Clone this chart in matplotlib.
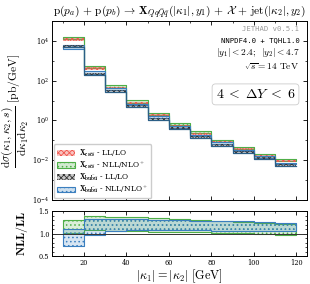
import numpy as np
import matplotlib
matplotlib.use("Agg")
import matplotlib.pyplot as plt
from matplotlib.patches import Patch
from matplotlib.ticker import MultipleLocator, FixedLocator, NullFormatter

plt.rcParams['font.family'] = 'serif'
plt.rcParams['font.serif'] = ['DejaVu Serif']
plt.rcParams['mathtext.fontset'] = 'cm'
plt.rcParams['hatch.linewidth'] = 0.6

# bins in |kappa| [GeV]
edges = [10, 20, 30, 40, 50, 60, 70, 80, 90, 100, 110, 120]

# X_cscs LL/LO band (red)
red_lo = [1.02e4, 360, 37, 6.5, 1.63, 0.48, 0.19, 0.069, 0.033, 0.015, 0.0079]
red_hi = [1.40e4, 460, 47, 8.3, 2.07, 0.62, 0.24, 0.087, 0.041, 0.019, 0.0101]
# X_cscs NLL/NLO+ band (green)
grn_lo = [1.22e4, 443, 45, 7.8, 1.92, 0.57, 0.221, 0.080, 0.037, 0.0168, 0.0088]
grn_hi = [1.57e4, 566, 57.5, 10.1, 2.48, 0.73, 0.280, 0.100, 0.047, 0.0211, 0.0110]
# X_bubu LL/LO band (black)
blk_lo = [4.7e3, 194, 27.3, 4.66, 1.10, 0.36, 0.130, 0.054, 0.023, 0.0110, 0.0053]
blk_hi = [6.3e3, 246, 34.7, 5.94, 1.40, 0.46, 0.166, 0.068, 0.029, 0.0140, 0.0067]
# X_bubu NLL/NLO+ band (blue)
blu_lo = [4.1e3, 216, 33.2, 5.72, 1.35, 0.44, 0.160, 0.065, 0.028, 0.0133, 0.0063]
blu_hi = [6.1e3, 293, 41.2, 7.00, 1.64, 0.53, 0.191, 0.078, 0.033, 0.0158, 0.0074]

# ratios NLL/LL
grn_r_lo = [1.02, 1.08, 1.07, 1.06, 1.04, 1.03, 1.03, 1.02, 1.01, 0.99, 0.98]
grn_r_hi = [1.31, 1.38, 1.37, 1.36, 1.34, 1.33, 1.30, 1.28, 1.26, 1.24, 1.22]
blu_r_lo = [0.74, 0.98, 1.07, 1.08, 1.08, 1.08, 1.08, 1.07, 1.07, 1.06, 1.05]
blu_r_hi = [1.10, 1.33, 1.33, 1.32, 1.31, 1.30, 1.29, 1.28, 1.27, 1.26, 1.24]

RED = '#f0564e'
GRN = '#4fae48'
BLK = '#333333'
BLU = '#3b7fbf'


def step_band(ax, lo, hi, color, hatch, face, lw):
    x = np.array(edges)
    lo = np.append(lo, lo[-1])
    hi = np.append(hi, hi[-1])
    ax.fill_between(x, lo, hi, step='post', facecolor=face, edgecolor=color,
                    hatch=hatch, linewidth=lw)


fig = plt.figure(figsize=(3.10, 2.84), dpi=100)
ax = fig.add_axes([0.168, 0.296, 0.822, 0.630])
axr = fig.add_axes([0.168, 0.097, 0.822, 0.160])

step_band(ax, grn_lo, grn_hi, GRN, '....', (0.31, 0.68, 0.28, 0.25), 0.8)
step_band(ax, red_lo, red_hi, RED, 'xxxxxx', (0.94, 0.34, 0.31, 0.35), 0.0)
step_band(ax, blu_lo, blu_hi, BLU, '....', (0.23, 0.5, 0.75, 0.25), 0.8)
step_band(ax, blk_lo, blk_hi, BLK, 'xxxxxx', (0.4, 0.4, 0.4, 0.35), 0.0)
# connecting step line
ax.step(edges, list(blk_lo) + [blk_lo[-1]], where='post', color='#2b5f86', lw=0.9)

ax.set_yscale('log')
ax.set_ylim(1e-4, 1e5)
ax.set_xlim(5, 125)
ax.yaxis.set_major_locator(FixedLocator([1e-4, 1e-2, 1e0, 1e2, 1e4]))
ax.yaxis.set_minor_locator(FixedLocator([1e-3, 1e-1, 1e1, 1e3]))
ax.yaxis.set_minor_formatter(NullFormatter())
ax.xaxis.set_major_locator(MultipleLocator(20))
ax.xaxis.set_minor_locator(MultipleLocator(10))
ax.tick_params(labelbottom=False)
for a in (ax, axr):
    a.tick_params(which='both', direction='in', top=True, right=True, labelsize=4.8, pad=2)
    a.tick_params(which='major', length=3, width=0.6)
    a.tick_params(which='minor', length=1.5, width=0.5)
    for s in a.spines.values():
        s.set_linewidth(0.7)

ax.set_ylabel(r'$\dfrac{\mathrm{d}\sigma(\kappa_1,\kappa_2,s)}{\mathrm{d}\kappa_1\mathrm{d}\kappa_2}$ $[\mathrm{pb/GeV}]$',
              fontsize=8.3, labelpad=1)
ax.set_title(r'$\mathrm{p}(p_a)\,+\,\mathrm{p}(p_b)\,\rightarrow\,\mathbf{X}_{Qq\bar{Q}\bar{q}}(|\kappa_1|,y_1)\,+\,\mathcal{X}\,+\,\mathrm{jet}(|\kappa_2|,y_2)$',
             fontsize=8.2, pad=5)

ax.text(0.97, 0.955, 'JETHAD v0.5.1', transform=ax.transAxes, ha='right', va='center',
        family='monospace', fontsize=5.2, color='#999999')
ax.text(0.97, 0.894, 'NNPDF4.0 + TQHL1.0', transform=ax.transAxes, ha='right', va='center',
        family='monospace', fontsize=5.2)
ax.text(0.97, 0.822, r'$|y_1| < \mathbf{2.4};\;\; |y_2| < \mathbf{4.7}$', transform=ax.transAxes,
        ha='right', va='center', fontsize=6.8)
ax.text(0.97, 0.745, r'$\sqrt{s} = \mathbf{14}\ \mathrm{TeV}$', transform=ax.transAxes,
        ha='right', va='center', fontsize=6.8)
ax.text(0.955, 0.59, r'$\mathbf{4}\; < \;\mathbf{\Delta} Y\; < \;\mathbf{6}$', transform=ax.transAxes,
        ha='right', va='center', fontsize=10,
        bbox=dict(boxstyle='round,pad=0.25', facecolor='white', edgecolor='#cccccc', lw=0.6))

handles = [
    Patch(facecolor=(0.94, 0.34, 0.31, 0.35), edgecolor=RED, hatch='xxxxxx', lw=0),
    Patch(facecolor=(0.31, 0.68, 0.28, 0.25), edgecolor=GRN, hatch='....', lw=0.8),
    Patch(facecolor=(0.4, 0.4, 0.4, 0.35), edgecolor=BLK, hatch='xxxxxx', lw=0),
    Patch(facecolor=(0.23, 0.5, 0.75, 0.25), edgecolor=BLU, hatch='....', lw=0.8),
]
labels = [
    r'$\mathbf{X_{cs\bar{c}\bar{s}}}$ - LL/LO',
    r'$\mathbf{X_{cs\bar{c}\bar{s}}}$ - NLL/NLO$^+$',
    r'$\mathbf{X_{bu\bar{b}\bar{u}}}$ - LL/LO',
    r'$\mathbf{X_{bu\bar{b}\bar{u}}}$ - NLL/NLO$^+$',
]
ax.legend(handles, labels, loc='lower left', fontsize=5.4, frameon=True, framealpha=1,
          edgecolor='#cccccc', handlelength=2.4, handleheight=0.8, borderpad=0.4,
          labelspacing=0.12, handletextpad=0.6, borderaxespad=0.2)

# ratio panel
step_band(axr, grn_r_lo, grn_r_hi, GRN, '....', (0.31, 0.68, 0.28, 0.2), 0.8)
step_band(axr, blu_r_lo, blu_r_hi, BLU, '....', (0.23, 0.5, 0.75, 0.2), 0.8)
axr.axhline(1.0, color='#333333', lw=0.7)
axr.set_xlim(5, 125)
axr.set_ylim(0.5, 1.5)
axr.yaxis.set_major_locator(FixedLocator([0.5, 1.0, 1.5]))
axr.yaxis.set_major_formatter(plt.FuncFormatter(lambda v, p: '%.1f' % v))
axr.yaxis.set_minor_locator(MultipleLocator(0.1))
axr.xaxis.set_major_locator(MultipleLocator(20))
axr.xaxis.set_minor_locator(MultipleLocator(10))
axr.set_ylabel(r'$\mathbf{NLL/LL}$', fontsize=8.5, labelpad=6)
axr.set_xlabel(r'$|\kappa_1| = |\kappa_2|\ [\mathrm{GeV}]$', fontsize=8.8, labelpad=0)

fig.savefig('out.png', dpi=100)
